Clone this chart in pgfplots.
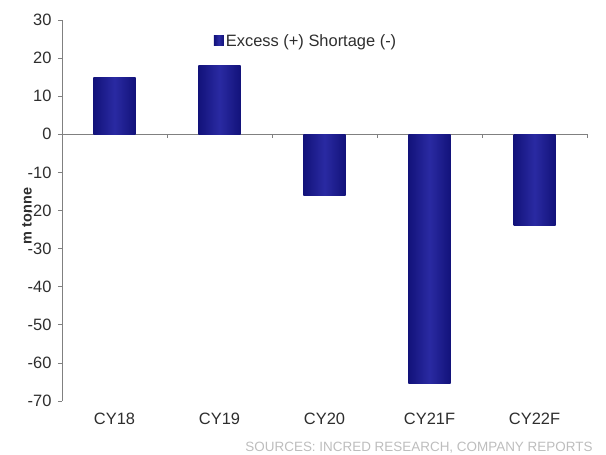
\documentclass[border=0pt]{standalone}
\usepackage{fontspec}
\setmainfont{Liberation Sans}
\usepackage{pgfplots}
\pgfplotsset{compat=1.18}

\definecolor{barnavy}{HTML}{12127A}
\definecolor{barmid}{HTML}{2A2AA2}
\definecolor{axisgray}{HTML}{808080}
\definecolor{labelgray}{HTML}{2E2E2E}
\definecolor{sourcegray}{HTML}{BDBDBD}

\pgfplotsset{
  navybar/.style={ybar, bar width=42bp, draw=none,
    left color=barnavy, right color=barnavy, middle color=barmid},
}

\begin{document}
\begin{tikzpicture}
\begin{axis}[
  at={(0,0)}, anchor=south west,
  scale only axis,
  width=525bp, height=381bp,
  xmin=-0.5, xmax=4.5,
  ymin=-70, ymax=30,
  ytick={-70,-60,...,30},
  xtick={0,1,2,3,4},
  xticklabels={CY18,CY19,CY20,CY21F,CY22F},
  axis y line*=left,
  axis x line*=bottom,
  x axis line style={draw=none},
  y axis line style={draw=axisgray, line width=0.8pt},
  xtick style={draw=none},
  ytick style={draw=axisgray, line width=0.8pt},
  tick align=outside,
  major tick length=4bp,
  xticklabel style={yshift=-5bp},
  yticklabel style={xshift=-3bp},
  /pgf/number format/assume math mode=true,
  tick label style={font=\fontsize{16.5}{18}\selectfont, text=labelgray},
  legend style={
    at={(0.287,0.945)}, anchor=west,
    draw=none, fill=none, inner sep=1bp,
    font=\fontsize{16.5}{18}\selectfont, text=labelgray,
  },
  legend image code/.code={
    \fill[barnavy] (0bp,-5bp) rectangle (10bp,5bp);
  },
  clip=false,
]
% zero line with category separators
\draw[axisgray, line width=0.8pt] (axis cs:-0.5,0) -- (axis cs:4.5,0);
\pgfplotsinvokeforeach{0.5,1.5,2.5,3.5,4.5}{
  \draw[axisgray, line width=0.8pt] (axis cs:#1,0) -- ([yshift=-4bp]axis cs:#1,0);
}
\addplot[navybar] coordinates {(0,15)};
\addlegendentry{Excess (+) Shortage (-)}
\addplot[navybar, forget plot] coordinates {(1,18)};
\addplot[navybar, forget plot] coordinates {(2,-16)};
\addplot[navybar, forget plot] coordinates {(3,-65.5)};
\addplot[navybar, forget plot] coordinates {(4,-24)};
\end{axis}
\node[rotate=90, font=\bfseries\fontsize{14.5}{16}\selectfont, text=labelgray]
  at (-35bp,185bp) {m tonne};
\node[anchor=east, font=\fontsize{13.5}{15}\selectfont, text=sourcegray]
  at (534bp,-47bp) {SOURCES: INCRED RESEARCH, COMPANY REPORTS};
\pgfresetboundingbox
\path[use as bounding box] (-62bp,-54bp) rectangle (544bp,401bp);
\end{tikzpicture}
\end{document}
